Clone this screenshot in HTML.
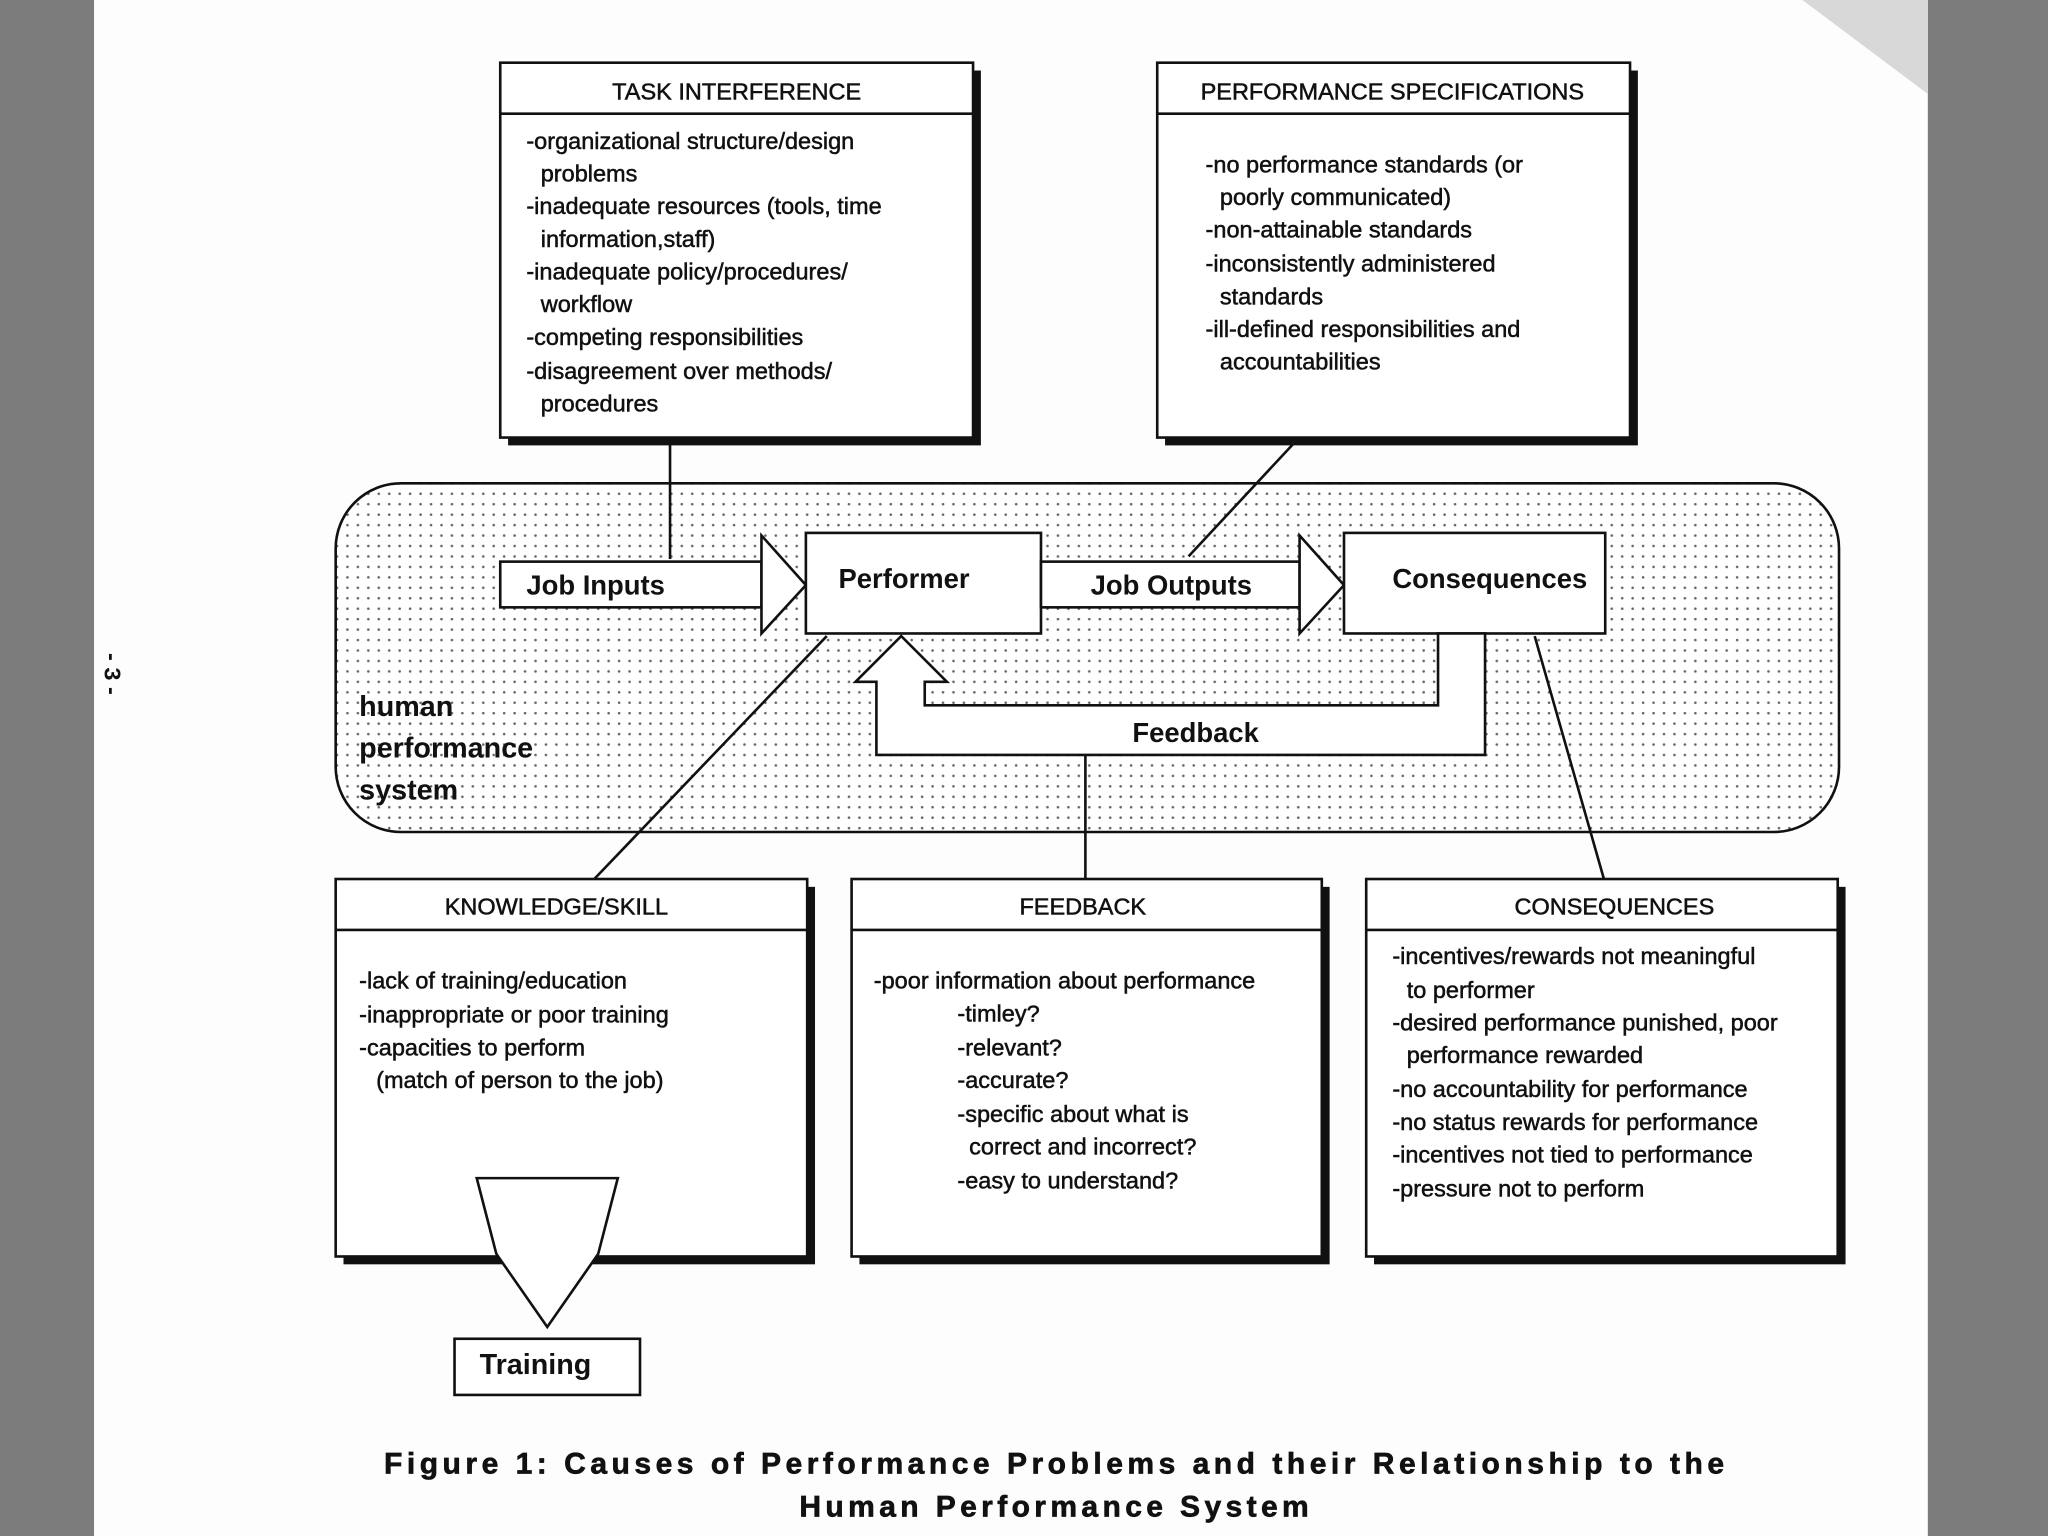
<!DOCTYPE html>
<html><head><meta charset="utf-8"><style>
html,body{margin:0;padding:0;background:#7a7a7a;}
svg{display:block;}
text{font-family:"Liberation Sans",sans-serif;fill:#111;}
</style></head><body>
<svg width="2048" height="1536" viewBox="0 0 1568 1176" xmlns="http://www.w3.org/2000/svg">
<defs>
<pattern id="dots" width="8" height="8" patternUnits="userSpaceOnUse">
<rect width="8" height="8" fill="#fff"/><circle cx="2" cy="2" r="1" fill="#666"/>
</pattern>
</defs>
<rect x="0" y="0" width="1568" height="1176" fill="#7c7c7c"/>
<rect x="72" y="0" width="1404" height="1176" fill="#fdfdfd"/>
<polygon points="1380,0 1476,0 1476,72" fill="#d8d8d8"/>
<text x="0" y="0" transform="translate(80,500) rotate(90)" font-size="18" font-weight="bold">- 3 -</text>

<g stroke="#111" stroke-width="2" fill="none">
<rect x="257" y="370" width="1151" height="267" rx="50" fill="url(#dots)"/>
<line x1="513" y1="335" x2="513" y2="428"/>
<line x1="990" y1="340" x2="910" y2="426"/>
<line x1="633" y1="487" x2="455" y2="673"/>
<line x1="831" y1="578" x2="831" y2="673"/>
<line x1="1175" y1="487" x2="1228" y2="673"/>
<rect x="383" y="430" width="200" height="35" fill="#fff"/>
<polygon points="583,410 617,448 583,485" fill="#fff"/>
<rect x="617" y="408" width="180" height="77" fill="#fff"/>
<rect x="797" y="430" width="198" height="35" fill="#fff"/>
<polygon points="995,410 1029,448 995,485" fill="#fff"/>
<rect x="1029" y="408" width="200" height="77" fill="#fff"/>
<polygon points="1101,485 1101,540 708,540 708,522 725,522 690,487 655,522 671,522 671,578 1137,578 1137,485" fill="#fff"/>
</g>
<text x="403" y="455" font-size="21" font-weight="bold">Job Inputs</text>
<text x="642" y="450" font-size="21" font-weight="bold">Performer</text>
<text x="835" y="455" font-size="21" font-weight="bold">Job Outputs</text>
<text x="1066" y="450" font-size="21" font-weight="bold">Consequences</text>
<text x="867" y="568" font-size="21" font-weight="bold">Feedback</text>
<text x="275" y="548" font-size="22" font-weight="bold">human</text>
<text x="275" y="580" font-size="22" font-weight="bold">performance</text>
<text x="275" y="612" font-size="22" font-weight="bold">system</text>

<g fill="#111">
<rect x="389" y="54" width="362" height="287"/>
<rect x="892" y="54" width="362" height="287"/>
<rect x="263" y="679" width="361" height="289"/>
<rect x="658" y="679" width="360" height="289"/>
<rect x="1052" y="679" width="361" height="289"/>
</g>
<g stroke="#111" stroke-width="2" fill="#fff">
<rect x="383" y="48" width="362" height="287"/><line x1="383" y1="87" x2="745" y2="87"/>
<rect x="886" y="48" width="362" height="287"/><line x1="886" y1="87" x2="1248" y2="87"/>
<rect x="257" y="673" width="361" height="289"/><line x1="257" y1="712" x2="618" y2="712"/>
<rect x="652" y="673" width="360" height="289"/><line x1="652" y1="712" x2="1012" y2="712"/>
<rect x="1046" y="673" width="361" height="289"/><line x1="1046" y1="712" x2="1407" y2="712"/>
<polygon points="365,902 473,902 458,960 419,1016 380,960" fill="#fff"/>
<rect x="348" y="1025" width="142" height="43"/>
</g>
<text x="410" y="1052" font-size="22" font-weight="bold" text-anchor="middle">Training</text>

<g font-size="18" stroke="#111" stroke-width="0.4">
<text x="564" y="76" text-anchor="middle">TASK INTERFERENCE</text>
<text x="403" y="114">-organizational structure/design</text>
<text x="414" y="139">problems</text>
<text x="403" y="164">-inadequate resources (tools, time</text>
<text x="414" y="189">information,staff)</text>
<text x="403" y="214">-inadequate policy/procedures/</text>
<text x="414" y="239">workflow</text>
<text x="403" y="264">-competing responsibilities</text>
<text x="403" y="290">-disagreement over methods/</text>
<text x="414" y="315">procedures</text>

<text x="1066" y="76" text-anchor="middle">PERFORMANCE SPECIFICATIONS</text>
<text x="923" y="132">-no performance standards (or</text>
<text x="934" y="157">poorly communicated)</text>
<text x="923" y="182">-non-attainable standards</text>
<text x="923" y="208">-inconsistently administered</text>
<text x="934" y="233">standards</text>
<text x="923" y="258">-ill-defined responsibilities and</text>
<text x="934" y="283">accountabilities</text>

<text x="426" y="700" text-anchor="middle">KNOWLEDGE/SKILL</text>
<text x="275" y="757">-lack of training/education</text>
<text x="275" y="783">-inappropriate or poor training</text>
<text x="275" y="808">-capacities to perform</text>
<text x="288" y="833">(match of person to the job)</text>

<text x="829" y="700" text-anchor="middle">FEEDBACK</text>
<text x="669" y="757">-poor information about performance</text>
<text x="733" y="782">-timley?</text>
<text x="733" y="808">-relevant?</text>
<text x="733" y="833">-accurate?</text>
<text x="733" y="859">-specific about what is</text>
<text x="742" y="884">correct and incorrect?</text>
<text x="733" y="910">-easy to understand?</text>

<text x="1236" y="700" text-anchor="middle">CONSEQUENCES</text>
<text x="1066" y="738">-incentives/rewards not meaningful</text>
<text x="1077" y="764">to performer</text>
<text x="1066" y="789">-desired performance punished, poor</text>
<text x="1077" y="814">performance rewarded</text>
<text x="1066" y="840">-no accountability for performance</text>
<text x="1066" y="865">-no status rewards for performance</text>
<text x="1066" y="890">-incentives not tied to performance</text>
<text x="1066" y="916">-pressure not to perform</text>
</g>
<g font-size="23" font-weight="bold" stroke="#111" stroke-width="0.5">
<text x="294" y="1128" textLength="1026" lengthAdjust="spacing">Figure 1: Causes of Performance Problems and their Relationship to the</text>
<text x="612" y="1161" textLength="390" lengthAdjust="spacing">Human Performance System</text>
</g>
</svg>
</body></html>
